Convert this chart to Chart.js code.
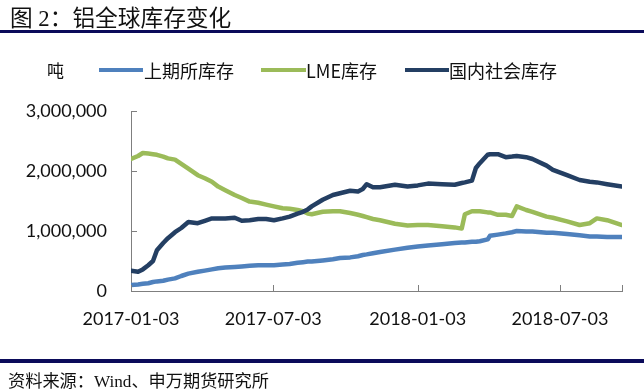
<!DOCTYPE html>
<html>
<head>
<meta charset="utf-8">
<script src="https://cdn.jsdelivr.net/npm/chart.js@4.4.0/dist/chart.umd.min.js"></script>
<style>
  body { margin: 0; width: 644px; height: 389px; overflow: hidden; background: #fff; position: relative; }
  #chart { position: absolute; left: 0; top: 0; }
  .txt { position: absolute; color: #111; white-space: nowrap; font-family: "Liberation Serif", "Noto Sans CJK SC", serif; }
  #title { left: 10px; top: 0px; font-size: 22.7px; }
  #foot { left: 8px; top: 367px; font-size: 17.2px; }
  .rule { position: absolute; left: 0; width: 644px; height: 3px; background: #0b0b5a; }
  .leg { position: absolute; top: 60px; font-family: "Noto Sans CJK SC", sans-serif; font-size: 18px; color: #111; white-space: nowrap; line-height: 20px; }
  .swatch { position: absolute; top: 68px; height: 4px; }
</style>
</head>
<body>
<canvas id="chart" width="644" height="389"></canvas>
<div id="title" class="txt">图 2：铝全球库存变化</div>
<div class="rule" style="top:30px"></div>
<div class="leg" style="left:47px;font-size:17px">吨</div>
<div class="swatch" style="left:99px;width:44px;background:#4f81bd"></div>
<div class="leg" style="left:144px">上期所库存</div>
<div class="swatch" style="left:261px;width:45px;background:#9bbb59"></div>
<div class="leg" style="left:306px">LME库存</div>
<div class="swatch" style="left:405px;width:44px;background:#243f63"></div>
<div class="leg" style="left:449px">国内社会库存</div>
<div class="rule" style="top:359px;height:4px"></div>
<div id="foot" class="txt">资料来源：Wind、申万期货研究所</div>

<script>
// sample dates
const dates = [
  '2017-01-03','2017-01-12','2017-01-18','2017-01-25','2017-01-31','2017-02-05','2017-02-13','2017-02-19',
  '2017-02-28','2017-03-08','2017-03-17','2017-03-29','2017-04-07','2017-04-16','2017-04-24','2017-05-03',
  '2017-05-15','2017-05-24','2017-06-03','2017-06-14','2017-06-24','2017-07-04','2017-07-15','2017-07-24',
  '2017-08-03','2017-08-10','2017-08-16','2017-08-21','2017-09-04','2017-09-17','2017-09-26','2017-10-09',
  '2017-10-19','2017-10-25','2017-10-30','2017-11-07','2017-11-16','2017-12-05','2017-12-21','2018-01-03',
  '2018-01-16','2018-02-03','2018-02-19','2018-02-28','2018-03-04','2018-03-13','2018-03-18','2018-03-23',
  '2018-04-02','2018-04-05','2018-04-15','2018-04-25','2018-05-03','2018-05-09','2018-05-21','2018-05-29',
  '2018-06-16','2018-06-24','2018-07-12','2018-07-28','2018-08-10','2018-08-19','2018-09-01','2018-09-20'
];
// 上期所库存 (tonnes)
const shfe = [
  100000,110000,120000,130000,150000,160000,170000,190000,
  210000,250000,290000,320000,340000,360000,380000,390000,
  400000,410000,420000,430000,430000,430000,440000,450000,
  470000,480000,490000,490000,510000,530000,550000,560000,
  580000,600000,610000,630000,650000,690000,720000,740000,
  760000,780000,800000,810000,810000,820000,820000,830000,
  860000,920000,940000,960000,980000,1000000,990000,990000,
  970000,970000,950000,930000,910000,910000,900000,900000
];
// LME库存
const lme = [
  2200000,2250000,2300000,2290000,2280000,2270000,2240000,2210000,
  2190000,2120000,2040000,1930000,1880000,1820000,1740000,1680000,
  1600000,1550000,1490000,1470000,1440000,1410000,1380000,1370000,
  1350000,1330000,1290000,1280000,1320000,1330000,1330000,1300000,
  1270000,1250000,1230000,1200000,1180000,1120000,1090000,1100000,
  1100000,1080000,1060000,1040000,1280000,1330000,1330000,1330000,
  1310000,1310000,1270000,1270000,1250000,1410000,1350000,1320000,
  1240000,1220000,1160000,1100000,1130000,1210000,1180000,1100000
];
// 国内社会库存
const social = [
  340000,320000,360000,430000,500000,680000,800000,880000,
  980000,1050000,1150000,1130000,1170000,1210000,1210000,1210000,
  1220000,1170000,1180000,1200000,1200000,1180000,1210000,1240000,
  1290000,1320000,1360000,1410000,1520000,1600000,1630000,1670000,
  1660000,1700000,1780000,1730000,1730000,1770000,1740000,1760000,
  1790000,1780000,1770000,1800000,1810000,1840000,2050000,2130000,
  2270000,2280000,2280000,2230000,2240000,2250000,2230000,2200000,
  2090000,2020000,1930000,1850000,1820000,1810000,1780000,1740000
];
const xTickLabels = ['2017-01-03', '2017-07-03', '2018-01-03', '2018-07-03'];
const xEndDate = '2018-09-20';
const yTicks = [0, 1000000, 2000000, 3000000];

const base = Date.UTC(2017, 0, 3);
function dayIndex(s) {
  const p = s.split('-').map(Number);
  return (Date.UTC(p[0], p[1] - 1, p[2]) - base) / 86400000;
}
function toPoints(vals) {
  return vals.map((v, i) => ({ x: dayIndex(dates[i]), y: v }));
}

const lineStyle = { borderWidth: 4.5, pointRadius: 0, tension: 0, borderJoinStyle: 'round', borderCapStyle: 'round', fill: false };

// excel-style ticks pointing into the plot
const innerTicks = {
  id: 'innerTicks',
  afterDraw(chart) {
    const c = chart.ctx, a = chart.chartArea;
    const xs = chart.scales.x, ys = chart.scales.y;
    c.save();
    c.strokeStyle = '#7f7f7f';
    c.lineWidth = 1;
    c.beginPath();
    yTicks.forEach(v => {
      const y = Math.round(ys.getPixelForValue(v)) + 0.5;
      c.moveTo(a.left, y); c.lineTo(a.left + 6, y);
    });
    xTickLabels.concat([xEndDate]).forEach(d => {
      const x = Math.round(xs.getPixelForValue(dayIndex(d))) + 0.5;
      c.moveTo(x, a.bottom); c.lineTo(x, a.bottom - 6);
    });
    c.stroke();
    c.restore();
  }
};

new Chart(document.getElementById('chart'), {
  type: 'line',
  data: {
    datasets: [
      Object.assign({ label: '上期所库存', data: toPoints(shfe), borderColor: '#4f81bd', order: 2 }, lineStyle),
      Object.assign({ label: 'LME库存', data: toPoints(lme), borderColor: '#9bbb59', order: 1 }, lineStyle),
      Object.assign({ label: '国内社会库存', data: toPoints(social), borderColor: '#243f63', order: 0 }, lineStyle)
    ]
  },
  options: {
    responsive: false,
    animation: false,
    layout: { padding: { left: 0, top: 111, right: 22, bottom: 0 } },
    plugins: { legend: { display: false }, tooltip: { enabled: false } },
    scales: {
      x: {
        type: 'linear',
        min: 0,
        max: dayIndex(xEndDate),
        afterBuildTicks: s => { s.ticks = xTickLabels.map(d => ({ value: dayIndex(d) })); },
        afterFit: s => { s.height = 98; },
        grid: { drawOnChartArea: false, drawTicks: false },
        border: { color: '#7f7f7f' },
        ticks: {
          padding: 17,
          maxRotation: 0,
          autoSkip: false,
          color: '#111',
          font: { family: 'Lato', size: 18 },
          callback: v => xTickLabels.find(d => dayIndex(d) === v) || ''
        }
      },
      y: {
        min: 0,
        max: 3000000,
        afterBuildTicks: s => { s.ticks = yTicks.map(v => ({ value: v })); },
        afterFit: s => { s.width = 131; },
        grid: { drawOnChartArea: false, drawTicks: false },
        border: { color: '#7f7f7f' },
        ticks: {
          padding: 24,
          color: '#111',
          font: { family: 'Lato', size: 18 },
          callback: v => v.toLocaleString('en-US')
        }
      }
    }
  },
  plugins: [innerTicks]
});
</script>
</body>
</html>
